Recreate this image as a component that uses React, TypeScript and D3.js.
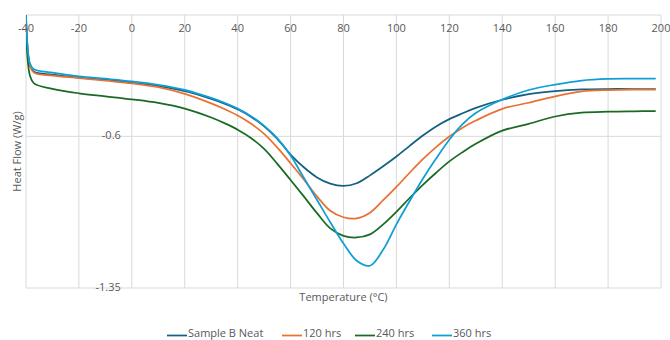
import React from "react";
import * as d3 from "d3";

const temps = [-40, -39.5, -38.5, -37, -30, -20, -10, 0, 10, 20, 30, 35, 40, 45, 50, 55, 60, 65, 70, 75, 80, 85, 90, 95, 100, 105, 110, 115, 120, 125, 130, 140, 150, 160, 170, 180, 190, 198];

const neat = [0, -0.15, -0.25, -0.28, -0.295, -0.31, -0.32, -0.335, -0.352, -0.377, -0.415, -0.438, -0.466, -0.503, -0.55, -0.613, -0.69, -0.753, -0.803, -0.834, -0.845, -0.832, -0.793, -0.748, -0.7, -0.647, -0.596, -0.551, -0.515, -0.486, -0.459, -0.419, -0.391, -0.376, -0.368, -0.366, -0.366, -0.366];

const hrs120 = [0, -0.15, -0.25, -0.285, -0.3, -0.312, -0.325, -0.338, -0.357, -0.39, -0.437, -0.465, -0.497, -0.537, -0.588, -0.656, -0.733, -0.813, -0.897, -0.968, -1.0, -1.006, -0.978, -0.916, -0.85, -0.78, -0.713, -0.653, -0.601, -0.557, -0.522, -0.464, -0.434, -0.402, -0.378, -0.371, -0.369, -0.369];

const hrs240 = [0, -0.2, -0.3, -0.338, -0.365, -0.387, -0.402, -0.417, -0.435, -0.463, -0.507, -0.535, -0.567, -0.608, -0.662, -0.736, -0.816, -0.897, -0.98, -1.055, -1.092, -1.1, -1.085, -1.035, -0.973, -0.905, -0.84, -0.78, -0.724, -0.678, -0.637, -0.572, -0.538, -0.502, -0.483, -0.478, -0.476, -0.475];

const hrs360 = [0, -0.14, -0.24, -0.268, -0.285, -0.303, -0.315, -0.328, -0.345, -0.37, -0.41, -0.434, -0.463, -0.5, -0.548, -0.61, -0.695, -0.805, -0.915, -1.025, -1.13, -1.215, -1.24, -1.16, -1.035, -0.92, -0.81, -0.71, -0.617, -0.54, -0.485, -0.418, -0.371, -0.344, -0.324, -0.316, -0.315, -0.315];

const seriesNames = ["Sample B Neat", "120 hrs", "240 hrs", "360 hrs"];
const seriesColors = ["#156082", "#E97132", "#196B24", "#0F9ED5"];
const xTicks = [-40, -20, 0, 20, 40, 60, 80, 100, 120, 140, 160, 180, 200];
const yTicks = [0, -0.6, -1.35];
const yTickLabels = ["", "-0.6", "-1.35"];

const W = 670;
const H = 340;
const left = 26;
const right = 661;
const top = 15;
const bottom = 288;
const FONT = "'Open Sans', sans-serif";
const TXT = "#595959";

export default function App() {
  const x = d3.scaleLinear().domain([-40, 200]).range([left, right]);
  const y = d3.scaleLinear().domain([-1.35, 0]).range([bottom, top]);
  const allSeries = [neat, hrs120, hrs240, hrs360];
  const line = d3
    .line<[number, number]>()
    .x((d) => x(d[0]))
    .y((d) => y(d[1]))
    .curve(d3.curveCatmullRom.alpha(0.5));

  const legendX = [167, 282, 355, 432];
  const legendY = 334.5;

  return (
    <svg
      width={W}
      height={H}
      style={{ position: "absolute", left: 0, top: 0, background: "#fff" }}
      fontFamily={FONT}
    >
      <defs>
        <clipPath id="plotclip">
          <rect x={left} y={top - 1} width={right - left} height={bottom - top + 2} />
        </clipPath>
      </defs>
      <rect x={0} y={0} width={W} height={H} fill="#fff" />
      {xTicks.map((t) => (
        <line key={"gx" + t} x1={x(t)} x2={x(t)} y1={top} y2={bottom} stroke="#d9d9d9" strokeWidth={1} />
      ))}
      {yTicks.map((t) => (
        <line key={"gy" + t} x1={left} x2={right} y1={y(t)} y2={y(t)} stroke="#d9d9d9" strokeWidth={1} />
      ))}
      <g clipPath="url(#plotclip)">
        {allSeries.map((vals, i) => (
          <path
            key={"s" + i}
            d={line(temps.map((t, j) => [t, vals[j]] as [number, number])) || ""}
            fill="none"
            stroke={seriesColors[i]}
            strokeWidth={1.75}
            strokeLinejoin="round"
          />
        ))}
      </g>
      {xTicks.map((t) => (
        <text key={"tx" + t} x={x(t)} y={29} textAnchor="middle" dominantBaseline="middle" fontSize={11} fill={TXT}>
          {t}
        </text>
      ))}
      {yTicks.map((t, i) => (
        <text key={"ty" + t} x={x(0) - 11} y={y(t)} textAnchor="end" dominantBaseline="middle" fontSize={11} fill={TXT}>
          {yTickLabels[i]}
        </text>
      ))}
      <text
        transform={`translate(18,${(top + bottom) / 2}) rotate(-90)`}
        textAnchor="middle"
        dominantBaseline="middle"
        fontSize={11}
        fill={TXT}
      >
        Heat Flow (W/g)
      </text>
      <text x={(left + right) / 2} y={298} textAnchor="middle" dominantBaseline="middle" fontSize={11} fill={TXT}>
        Temperature (°C)
      </text>
      {seriesNames.map((n, i) => (
        <g key={"lg" + i}>
          <line x1={legendX[i]} x2={legendX[i] + 20} y1={legendY + 1} y2={legendY + 1} stroke={seriesColors[i]} strokeWidth={1.75} />
          <text x={legendX[i] + 21} y={legendY} dominantBaseline="middle" fontSize={11} fill={TXT}>
            {n}
          </text>
        </g>
      ))}
    </svg>
  );
}
